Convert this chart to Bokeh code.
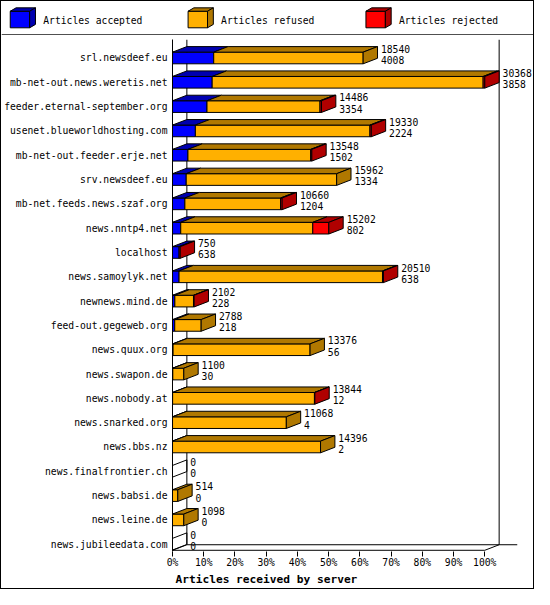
from bokeh.plotting import figure
from bokeh.models import Range1d, FixedTicker, ColumnDataSource, Span, Title
from bokeh.layouts import column
from bokeh.core.properties import value
from bokeh.embed import file_html
from bokeh.resources import INLINE

# ---------------- data ----------------
servers = [
    "srl.newsdeef.eu", "mb-net-out.news.weretis.net", "feeder.eternal-september.org",
    "usenet.blueworldhosting.com", "mb-net-out.feeder.erje.net", "srv.newsdeef.eu",
    "mb-net.feeds.news.szaf.org", "news.nntp4.net", "localhost", "news.samoylyk.net",
    "newnews.mind.de", "feed-out.gegeweb.org", "news.quux.org", "news.swapon.de",
    "news.nobody.at", "news.snarked.org", "news.bbs.nz", "news.finalfrontier.ch",
    "news.babsi.de", "news.leine.de", "news.jubileedata.com",
]
offered = [18540, 30368, 14486, 19330, 13548, 15962, 10660, 15202, 750, 20510,
           2102, 2788, 13376, 1100, 13844, 11068, 14396, 0, 514, 1098, 0]
accepted = [4008, 3858, 3354, 2224, 1502, 1334, 1204, 802, 638, 638,
            228, 218, 56, 30, 12, 4, 2, 0, 0, 0, 0]
refused = [14532, 26350, 10992, 16976, 11936, 14628, 9306, 12840, 0, 19782,
           1814, 2570, 13320, 1070, 13792, 11064, 14394, 0, 514, 1098, 0]
rejected = [0, 160, 140, 130, 110, 0, 150, 1560, 112, 90,
            60, 0, 0, 0, 40, 0, 0, 0, 0, 0, 0]
pct_ticks = [0, 10, 20, 30, 40, 50, 60, 70, 80, 90, 100]
pct_labels = ["0%", "10%", "20%", "30%", "40%", "50%", "60%", "70%", "80%", "90%", "100%"]
legend_names = ["Articles accepted", "Articles refused", "Articles rejected"]
front_colors = ["#0000ff", "#ffb000", "#ff0000"]
dark_colors = ["#0000b0", "#b07800", "#b00000"]

FONT = "DejaVu Sans Mono"
FS = "9.7px"

# ---------------- geometry ----------------
H = 0.24      # half height of bar front (rows)
DY = 0.228    # 3d depth (rows)
DX = 4.6      # 3d depth (percent)
n = len(servers)
FLOOR = n - 1 + 0.25
TOP = -0.76
scale_max = max(offered)

fq = dict(left=[], right=[], top=[], bottom=[], color=[])
tp = dict(xs=[], ys=[], color=[])
sd = dict(xs=[], ys=[], color=[], alpha=[])
for i in range(n):
    x0 = 0.0
    last = None
    for k, v in enumerate([accepted[i], refused[i], rejected[i]]):
        if v <= 0:
            continue
        x1 = x0 + v / scale_max * 100
        fq["left"].append(x0); fq["right"].append(x1)
        fq["top"].append(i - H); fq["bottom"].append(i + H)
        fq["color"].append(front_colors[k])
        tp["xs"].append([x0, x1, x1 + DX, x0 + DX])
        tp["ys"].append([i - H, i - H, i - H - DY, i - H - DY])
        tp["color"].append(dark_colors[k])
        x0 = x1
        last = k
    sd["xs"].append([x0, x0 + DX, x0 + DX, x0])
    sd["ys"].append([i - H, i - H - DY, i + H - DY, i + H])
    sd["color"].append(dark_colors[last] if last is not None else "white")
    sd["alpha"].append(1.0 if last is not None else 0.0)

lab = dict(x=[], y=[], text=[])
for i in range(n):
    xe = offered[i] / scale_max * 100 + DX + 1.1
    lab["x"] += [xe, xe]
    lab["y"] += [i - 0.38, i + 0.08]
    lab["text"] += [str(offered[i]), str(accepted[i])]

# ---------------- main figure ----------------
p = figure(width=532, height=553, x_range=Range1d(0, 115.6), y_range=Range1d(20.3, TOP),
           min_border_left=171, min_border_right=0, min_border_top=4, min_border_bottom=37,
           toolbar_location=None, output_backend="svg", outline_line_color=None)
p.grid.visible = False
p.frame_align = False

# walls / floor
p.segment(x0=[0, 100, 0, DX, DX, 100 + DX],
          y0=[FLOOR, FLOOR, FLOOR, FLOOR - DY, TOP, TOP],
          x1=[100, 100 + DX, DX, 110.4, DX, 100 + DX],
          y1=[FLOOR, FLOOR - DY, FLOOR - DY, FLOOR - DY, FLOOR - DY, FLOOR - DY],
          line_color="black", line_width=1)

p.quad(source=ColumnDataSource(fq), left="left", right="right", top="top", bottom="bottom",
       fill_color="color", line_color="black", line_width=1)
p.patches(source=ColumnDataSource(tp), xs="xs", ys="ys", fill_color="color",
          line_color="black", line_width=1)
p.patches(source=ColumnDataSource(sd), xs="xs", ys="ys", fill_color="color",
          fill_alpha="alpha", line_color="black", line_width=1)
p.text(source=ColumnDataSource(lab), x="x", y="y", text="text",
       text_font=value(FONT), text_font_size=FS, text_baseline="middle",
       text_align="left", text_color="black")

ya = p.yaxis[0]
ya.ticker = FixedTicker(ticks=list(range(n)))
ya.major_label_overrides = {i: s for i, s in enumerate(servers)}
ya.major_tick_out = 0
ya.major_tick_in = 0
ya.minor_tick_out = 0
ya.minor_tick_in = 0
ya.major_label_standoff = 5
ya.major_label_text_font = FONT
ya.major_label_text_font_size = FS
ya.major_label_text_color = "black"
ya.axis_line_color = "black"

xa = p.xaxis[0]
xa.ticker = FixedTicker(ticks=pct_ticks)
xa.major_label_overrides = {t: l for t, l in zip(pct_ticks, pct_labels)}
xa.axis_line_color = None
xa.major_tick_out = 5
xa.major_tick_in = 0
xa.minor_tick_out = 0
xa.minor_tick_in = 0
xa.major_tick_line_color = "black"
xa.major_label_standoff = 0
xa.major_label_text_font = FONT
xa.major_label_text_font_size = FS
xa.major_label_text_color = "black"

p.add_layout(Title(text="Articles received by server", align="left", offset=3,
                   standoff=0, text_font=FONT, text_font_style="bold",
                   text_font_size="11.2px", text_color="black"), "below")

# ---------------- legend figure ----------------
leg = figure(width=532, height=34, x_range=Range1d(1, 549), y_range=Range1d(35.9, 1.0),
             min_border=0, toolbar_location=None, output_backend="svg",
             outline_line_color=None, x_axis_type=None, y_axis_type=None)
leg.grid.visible = False
leg.frame_align = False
LX0, LSTEP, CW, CY0, CY1, CDX, CDY = 10, 183.2, 20, 11, 28, 6, 3.5
cx = [LX0 + j * LSTEP for j in range(len(legend_names))]
leg.quad(left=cx, right=[c + CW for c in cx], top=[CY0] * 3, bottom=[CY1] * 3,
         fill_color=front_colors, line_color="black")
leg.patches(xs=[[c, c + CW, c + CW + CDX, c + CDX] for c in cx],
            ys=[[CY0, CY0, CY0 - CDY, CY0 - CDY] for c in cx],
            fill_color=dark_colors, line_color="black")
leg.patches(xs=[[c + CW, c + CW + CDX, c + CW + CDX, c + CW] for c in cx],
            ys=[[CY0, CY0 - CDY, CY1 - CDY, CY1] for c in cx],
            fill_color=dark_colors, line_color="black")
leg.text(x=[c + 34 for c in cx], y=[20] * 3, text=legend_names,
         text_font=value(FONT), text_font_size=FS, text_baseline="middle",
         text_align="left", text_color="black")
leg.add_layout(Span(location=35.2, dimension="width", line_color="black", line_width=1))

layout = column(leg, p, styles={"border": "1px solid black"})
open("out.html", "w").write(file_html(layout, INLINE))
